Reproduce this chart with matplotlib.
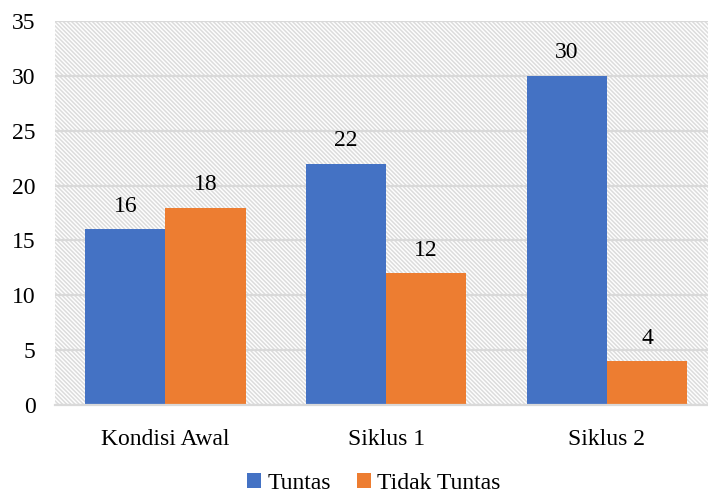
import numpy as np
import matplotlib
matplotlib.use('Agg')
import matplotlib.pyplot as plt
from matplotlib.patches import Rectangle

plt.rcParams['font.family'] = ['Liberation Serif', 'DejaVu Serif']
plt.rcParams['hatch.color'] = '#dcdcdc'
plt.rcParams['hatch.linewidth'] = 1.1

categories = ['Kondisi Awal', 'Siklus 1', 'Siklus 2']
tuntas = [16, 22, 30]
tidak_tuntas = [18, 12, 4]
series_names = ['Tuntas', 'Tidak Tuntas']
colors = ['#4472C4', '#ED7D31']

fig = plt.figure(figsize=(7.08, 4.94), dpi=100)
ax = fig.add_axes([55 / 708, 89 / 494, 653 / 708, 384 / 494])

# latar belakang bergaris miring
bg = Rectangle((0, 0), 1, 1, transform=ax.transAxes, facecolor='white',
               edgecolor='#dcdcdc', hatch='\\' * 8, linewidth=0, zorder=0)
ax.add_patch(bg)

x = np.arange(len(categories))
w = 0.363
bars1 = ax.bar(x - w / 2, tuntas, width=w, color=colors[0], label=series_names[0], zorder=3)
bars2 = ax.bar(x + w / 2, tidak_tuntas, width=w, color=colors[1], label=series_names[1], zorder=3)

for bars in (bars1, bars2):
    for b in bars:
        ax.annotate(f'{int(b.get_height())}', (b.get_x() + b.get_width() / 2, b.get_height()),
                    xytext=(0, 9), textcoords='offset points', ha='center', va='bottom',
                    fontsize=17, color='#000000')

ax.set_ylim(0, 35)
ax.set_yticks(range(0, 36, 5))
ax.set_xlim(-0.5, 2.458)
ax.set_xticks(x)
ax.set_xticklabels(categories)
ax.tick_params(axis='both', length=0, labelsize=17)
ax.tick_params(axis='y', pad=14)
ax.tick_params(axis='x', pad=17)

ax.grid(axis='y', color='#d9d9d9', linewidth=1.6, zorder=1)
ax.set_axisbelow(True)
for side in ['top', 'right', 'left']:
    ax.spines[side].set_visible(False)
ax.spines['bottom'].set_color('#d9d9d9')
ax.spines['bottom'].set_linewidth(1.6)
ax.spines['bottom'].set_zorder(4)

fig.legend(loc='center', bbox_to_anchor=(0.528, 11 / 494), ncol=2, frameon=False,
           fontsize=17, handlelength=0.6, handleheight=0.6, handletextpad=0.25,
           columnspacing=1.1)

fig.savefig('out.png', dpi=100)
